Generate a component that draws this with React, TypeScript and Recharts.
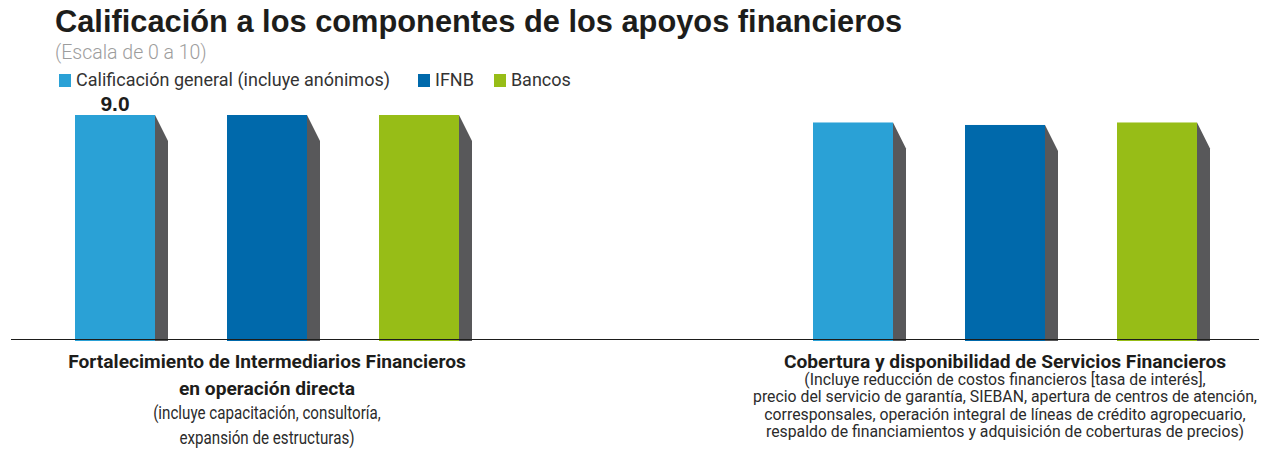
import { Bar, BarChart, LabelList, Legend, XAxis, YAxis } from "recharts";

const categories = [
  "Fortalecimiento de Intermediarios Financieros",
  "Cobertura y disponibilidad de Servicios Financieros",
];
const generalScores = [9.0, 8.7];
const ifnbScores = [9.0, 8.6];
const bancosScores = [9.0, 8.7];

const seriesNames = ["Calificación general (incluye anónimos)", "IFNB", "Bancos"];
const seriesColors = ["#2aa1d6", "#0069ab", "#97bd17"];

// bold lines + regular note lines under each category
const tickTitles = [
  ["Fortalecimiento de Intermediarios Financieros", "en operación directa"],
  ["Cobertura y disponibilidad de Servicios Financieros"],
];
const tickNotes = [
  ["(incluye capacitación, consultoría,", "expansión de estructuras)"],
  [
    "(Incluye reducción de costos financieros [tasa de interés],",
    "precio del servicio de garantía, SIEBAN, apertura de centros de atención,",
    "corresponsales, operación integral de líneas de crédito agropecuario,",
    "respaldo de financiamientos y adquisición de coberturas de precios)",
  ],
];

const data = categories.map((name, i) => ({
  name,
  general: generalScores[i],
  ifnb: ifnbScores[i],
  bancos: bancosScores[i],
}));

const SIDE = "#58585a";
const TEXT = "#1d1d1b";

function Bar3D(props: any) {
  const { x, y, width, height, fill } = props;
  const right = x + width;
  const bottom = y + height + 1.5;
  return (
    <g>
      <path
        d={`M${right},${y} L${right + 13},${y + 26} L${right + 13},${bottom} L${right},${bottom} Z`}
        fill={SIDE}
      />
      <rect x={x} y={y} width={width} height={height + 1.5} fill={fill} />
    </g>
  );
}

function CategoryTick(props: any) {
  const { x, y, index } = props;
  const titles = tickTitles[index] || [];
  const notes = tickNotes[index] || [];
  const small = index === 1;
  return (
    <g transform={`translate(${x},${y})`}>
      {titles.map((t, i) => (
        <text key={"t" + i} x={0} y={28 + i * 27} textAnchor="middle"
          fontFamily="Roboto" fontWeight={700} fontSize={19.2} fill={TEXT}>
          {t}
        </text>
      ))}
      {small
        ? notes.map((t, i) => (
            <text key={"n" + i} x={0} y={45.5 + i * 17.4} textAnchor="middle"
              fontFamily="Roboto" fontSize={15.8} fill="#2b2b2b">
              {t}
            </text>
          ))
        : (
          <g transform="scale(0.82,1)">
            {notes.map((t, i) => (
              <text key={"n" + i} x={0} y={80 + i * 24.5} textAnchor="middle"
                fontFamily="Roboto" fontSize={18.5} fill="#2b2b2b">
                {t}
              </text>
            ))}
          </g>
        )}
    </g>
  );
}

function ValueLabel(props: any) {
  const { x, y, width, value, index } = props;
  if (index !== 0) return null;
  return (
    <text x={x + width / 2} y={y - 4.5} textAnchor="middle"
      fontFamily="Liberation Sans" fontWeight={700} fontSize={21} fill={TEXT}>
      {Number(value).toFixed(1)}
    </text>
  );
}

function LegendBox() {
  const gaps = [28, 20, 0];
  return (
    <div style={{ display: "flex", alignItems: "center", fontFamily: "Roboto", fontSize: 18, color: "#333", lineHeight: "20px" }}>
      {seriesNames.map((n, i) => (
        <div key={n} style={{ display: "flex", alignItems: "center", marginRight: gaps[i] }}>
          <span style={{ width: 12, height: 13, background: seriesColors[i], marginRight: 5, display: "inline-block" }} />
          <span>{n}</span>
        </div>
      ))}
    </div>
  );
}

export default function App() {
  return (
    <div style={{ position: "relative", width: 1259, height: 441, background: "#fff" }}>
      <div style={{ position: "absolute", left: 47, top: -1.5, fontFamily: "Liberation Sans", fontWeight: 700,
        fontSize: 30.8, lineHeight: "30px", color: TEXT, whiteSpace: "nowrap" }}>
        Calificación a los componentes de los apoyos financieros
      </div>
      <div style={{ position: "absolute", left: 47, top: 35, fontFamily: "Roboto", fontWeight: 300,
        fontSize: 19.5, lineHeight: "19px", color: "#9d9d9d", whiteSpace: "nowrap" }}>
        (Escala de 0 a 10)
      </div>
      <div style={{ position: "absolute", left: 3, top: 0, width: 1256, height: 441, overflow: "hidden" }}>
        <div style={{ position: "absolute", left: -113, top: 0 }}>
          <BarChart width={1476} height={441} data={data}
            margin={{ top: 107, right: 0, bottom: 9.5, left: 0 }}
            barSize={80} barGap={72} barCategoryGap={177}>
            <XAxis dataKey="name" height={100} interval={0} tickLine={false} tickSize={0} tickMargin={0}
              axisLine={{ stroke: "#1d1d1b", strokeWidth: 1 }} tick={<CategoryTick />} />
            <YAxis hide domain={[0, 9]} />
            <Legend verticalAlign="middle" layout="horizontal"
              wrapperStyle={{ position: "absolute", top: 62, left: 161, width: "auto" }}
              content={() => <LegendBox />} />
            <Bar dataKey="general" name={seriesNames[0]} fill={seriesColors[0]} shape={<Bar3D />} isAnimationActive={false}>
              <LabelList dataKey="general" content={<ValueLabel />} />
            </Bar>
            <Bar dataKey="ifnb" name={seriesNames[1]} fill={seriesColors[1]} shape={<Bar3D />} isAnimationActive={false} />
            <Bar dataKey="bancos" name={seriesNames[2]} fill={seriesColors[2]} shape={<Bar3D />} isAnimationActive={false} />
          </BarChart>
        </div>
      </div>
    </div>
  );
}
